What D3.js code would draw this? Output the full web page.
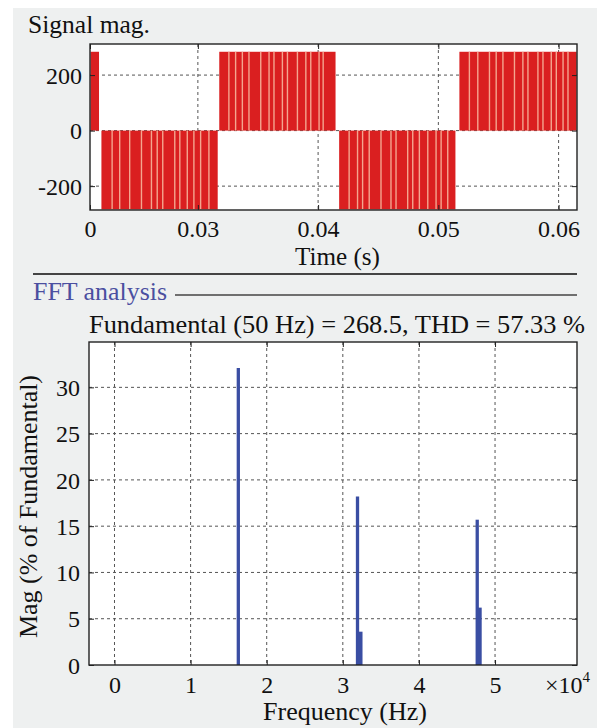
<!DOCTYPE html>
<html><head><meta charset="utf-8">
<script src="https://cdn.jsdelivr.net/npm/d3@7"></script>
<style>
html,body{margin:0;padding:0;background:#fff;}
svg text{font-family:"Liberation Serif","Times New Roman",Times,serif;fill:#111;}
</style></head>
<body><svg id="c" width="601" height="728"></svg>
<script>
// ---- Signal (top plot) data ----
const segStart = [0.02107, 0.02198, 0.03178, 0.04175, 0.05175];
const segEnd   = [0.02178, 0.03165, 0.04145, 0.05142, 0.06150];
const segLevel = [284, -284, 284, -284, 284];
const notchTimes = [
  0.02287,0.02350,0.02433,0.02531,0.02614,0.02662,0.02708,0.02808,0.02850,0.02912,0.02967,0.03023,0.03092,
  0.03258,0.03314,0.03370,0.03425,0.03523,0.03592,0.03633,0.03703,0.03745,0.03828,0.03898,0.03939,0.04008,0.04042,
  0.04258,0.04328,0.04370,0.04425,0.04523,0.04606,0.04648,0.04745,0.04787,0.04842,0.04912,0.04981,0.05023,0.05078,
  0.05258,0.05328,0.05425,0.05481,0.05537,0.05633,0.05703,0.05745,0.05828,0.05870,0.05939,0.05981,0.06037,0.06078
];
const timeTicks = [0.02103, 0.03, 0.04, 0.05, 0.06];
const timeTickLabels = ["0", "0.03", "0.04", "0.05", "0.06"];
const sigTicks = [-200, 0, 200];

// ---- FFT data ----
const harmFreq = [16270, 31930, 32260, 47660, 47920];
const harmMag  = [32.1, 18.2, 3.6, 15.7, 6.2];
const freqTicks = [0, 10000, 20000, 30000, 40000, 50000];
const freqTickLabels = ["0", "1", "2", "3", "4", "5"];
const magTicks = [0, 5, 10, 15, 20, 25, 30];

const svg = d3.select("#c");
svg.append("rect").attr("x",13).attr("y",8).attr("width",584).attr("height",720).attr("fill","#eef0f0");

const gridCol = "#555", frameCol = "#222";

// ---------- Top plot ----------
const T = {l:90, r:577, t:44, b:210};
const xT = d3.scaleLinear().domain([0.02103, 0.06153]).range([T.l, T.r]);
const yT = d3.scaleLinear().domain([-286, 312]).range([T.b, T.t]);

svg.append("rect").attr("x",T.l).attr("y",T.t).attr("width",T.r-T.l).attr("height",T.b-T.t).attr("fill","#fff");
const gT = svg.append("g");
gT.selectAll(".vg").data(timeTicks.slice(1)).join("line")
  .attr("x1",d=>xT(d)).attr("x2",d=>xT(d)).attr("y1",T.t).attr("y2",T.b)
  .attr("stroke",gridCol).attr("stroke-width",1).attr("stroke-dasharray","3,3");
gT.selectAll(".hg").data(sigTicks).join("line")
  .attr("x1",T.l).attr("x2",T.r).attr("y1",d=>yT(d)).attr("y2",d=>yT(d))
  .attr("stroke",gridCol).attr("stroke-width",1).attr("stroke-dasharray","3,3");
const segs = segStart.map((s,i)=>({s, e:segEnd[i], v:segLevel[i]}));
gT.selectAll(".seg").data(segs).join("rect")
  .attr("x",d=>xT(d.s)).attr("width",d=>xT(d.e)-xT(d.s))
  .attr("y",d=>yT(Math.max(d.v,0))).attr("height",d=>Math.abs(yT(d.v)-yT(0)))
  .attr("fill","#da1f20");
const notches = notchTimes.map(t=>{const sg=segs.find(s=>t>=s.s&&t<=s.e); return {t, v: sg?sg.v:0};});
gT.selectAll(".n").data(notches).join("line")
  .attr("x1",d=>xT(d.t)).attr("x2",d=>xT(d.t))
  .attr("y1",d=>yT(0)).attr("y2",d=>yT(d.v))
  .attr("stroke","#f4a58f").attr("stroke-width",1.4);

const fmtT = d=>timeTickLabels[timeTicks.indexOf(d)];
const axBT = svg.append("g").attr("transform",`translate(0,${T.b})`)
  .call(d3.axisBottom(xT).tickValues(timeTicks).tickFormat(fmtT).tickSize(-5).tickPadding(10));
const axTT = svg.append("g").attr("transform",`translate(0,${T.t})`)
  .call(d3.axisTop(xT).tickValues(timeTicks).tickFormat("").tickSize(-5));
const axLT = svg.append("g").attr("transform",`translate(${T.l},0)`)
  .call(d3.axisLeft(yT).tickValues(sigTicks).tickFormat(d=>String(d)).tickSize(-5).tickPadding(8));
const axRT = svg.append("g").attr("transform",`translate(${T.r},0)`)
  .call(d3.axisRight(yT).tickValues(sigTicks).tickFormat("").tickSize(-5));
[axBT,axTT,axLT,axRT].forEach(a=>{
  a.select(".domain").remove();
  a.selectAll(".tick line").attr("stroke",frameCol);
  a.selectAll("text").attr("font-size",24).attr("fill","#111");
});
axLT.selectAll("text").attr("dy","0.34em");
svg.append("rect").attr("x",T.l).attr("y",T.t).attr("width",T.r-T.l).attr("height",T.b-T.t)
  .attr("fill","none").attr("stroke",frameCol).attr("stroke-width",1.4);

svg.append("text").attr("x",28).attr("y",33).attr("font-size",25)
  .attr("textLength",122).attr("lengthAdjust","spacingAndGlyphs").text("Signal mag.");
svg.append("text").attr("x",295).attr("y",265).attr("font-size",25)
  .attr("textLength",85).attr("lengthAdjust","spacingAndGlyphs").text("Time (s)");

svg.append("line").attr("x1",33).attr("x2",577).attr("y1",274).attr("y2",274).attr("stroke","#444").attr("stroke-width",2);
svg.append("text").attr("x",33).attr("y",300).attr("font-size",25)
  .attr("textLength",134).attr("lengthAdjust","spacingAndGlyphs").style("fill","#4b4fa0").text("FFT analysis");
svg.append("line").attr("x1",175).attr("x2",577).attr("y1",295).attr("y2",295).attr("stroke","#444").attr("stroke-width",1.5);

// ---------- FFT plot ----------
const F = {l:89, r:577, t:342, b:665};
const xF = d3.scaleLinear().domain([-3350, 60770]).range([F.l, F.r]);
const yF = d3.scaleLinear().domain([0, 34.9]).range([F.b, F.t]);

svg.append("text").attr("x",89).attr("y",333).attr("font-size",25)
  .attr("textLength",496).attr("lengthAdjust","spacingAndGlyphs")
  .text("Fundamental (50 Hz) = 268.5, THD = 57.33 %");

svg.append("rect").attr("x",F.l).attr("y",F.t).attr("width",F.r-F.l).attr("height",F.b-F.t).attr("fill","#fff");
const gF = svg.append("g");
gF.selectAll(".vg").data(freqTicks).join("line")
  .attr("x1",d=>xF(d)).attr("x2",d=>xF(d)).attr("y1",F.t).attr("y2",F.b)
  .attr("stroke",gridCol).attr("stroke-width",1).attr("stroke-dasharray","3,3");
gF.selectAll(".hg").data(magTicks.slice(1)).join("line")
  .attr("x1",F.l).attr("x2",F.r).attr("y1",d=>yF(d)).attr("y2",d=>yF(d))
  .attr("stroke",gridCol).attr("stroke-width",1).attr("stroke-dasharray","3,3");
const harms = harmFreq.map((f,i)=>({f, m:harmMag[i]}));
gF.selectAll(".h").data(harms).join("line")
  .attr("x1",d=>xF(d.f)).attr("x2",d=>xF(d.f))
  .attr("y1",yF(0)).attr("y2",d=>yF(d.m))
  .attr("stroke","#3a4ea3").attr("stroke-width",d=>d.m<10?5:3.3);

const fmtF = d=>freqTickLabels[freqTicks.indexOf(d)];
const axBF = svg.append("g").attr("transform",`translate(0,${F.b})`)
  .call(d3.axisBottom(xF).tickValues(freqTicks).tickFormat(fmtF).tickSize(-5).tickPadding(11));
const axTF = svg.append("g").attr("transform",`translate(0,${F.t})`)
  .call(d3.axisTop(xF).tickValues(freqTicks).tickFormat("").tickSize(-5));
const axLF = svg.append("g").attr("transform",`translate(${F.l},0)`)
  .call(d3.axisLeft(yF).tickValues(magTicks).tickFormat(d=>String(d)).tickSize(-5).tickPadding(9));
const axRF = svg.append("g").attr("transform",`translate(${F.r},0)`)
  .call(d3.axisRight(yF).tickValues(magTicks).tickFormat("").tickSize(-5));
[axBF,axTF,axLF,axRF].forEach(a=>{
  a.select(".domain").remove();
  a.selectAll(".tick line").attr("stroke",frameCol);
  a.selectAll("text").attr("font-size",24).attr("fill","#111");
});
axLF.selectAll("text").attr("dy","0.34em");
svg.append("rect").attr("x",F.l).attr("y",F.t).attr("width",F.r-F.l).attr("height",F.b-F.t)
  .attr("fill","none").attr("stroke",frameCol).attr("stroke-width",1.4);

const mult = svg.append("text").attr("x",545).attr("y",693).attr("font-size",24);
mult.append("tspan").text("×10");
mult.append("tspan").attr("font-size",15).attr("dy",-11).text("4");

svg.append("text").attr("x",263).attr("y",720).attr("font-size",25)
  .attr("textLength",164).attr("lengthAdjust","spacingAndGlyphs").text("Frequency (Hz)");
svg.append("text").attr("transform","translate(37,638) rotate(-90)").attr("font-size",25)
  .attr("textLength",263).attr("lengthAdjust","spacingAndGlyphs").text("Mag (% of Fundamental)");
</script></body></html>
